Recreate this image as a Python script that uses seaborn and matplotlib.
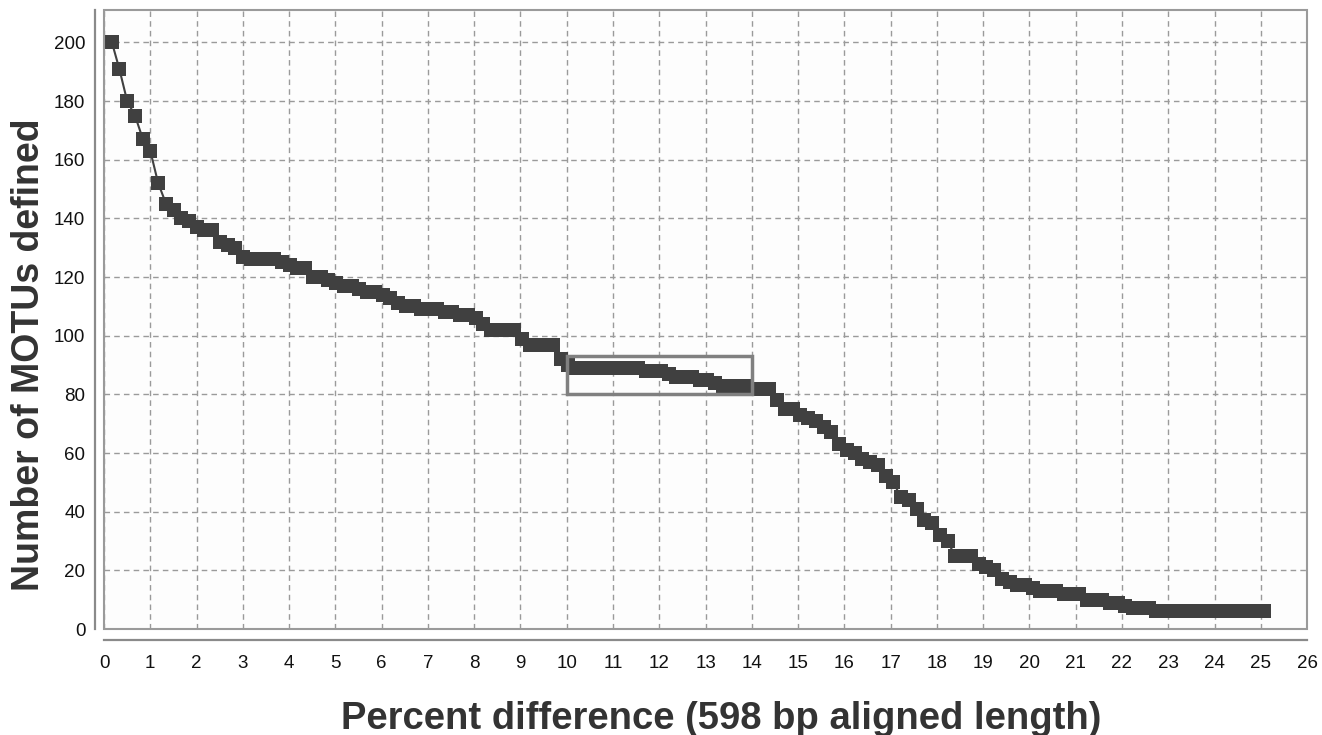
import numpy as np
import pandas as pd
import matplotlib
matplotlib.use("Agg")
import matplotlib.pyplot as plt
import seaborn as sns
from matplotlib.patches import Rectangle


# percent difference (steps of 1 bp over 598 bp)
pct_diff = [0.17, 0.33, 0.50, 0.67, 0.84, 1.00, 1.17, 1.34, 1.51, 1.67,
            1.84, 2.01, 2.17, 2.34, 2.51, 2.68, 2.84, 3.01, 3.18, 3.34,
            3.51, 3.68, 3.85, 4.01, 4.18, 4.35, 4.52, 4.68, 4.85, 5.02,
            5.18, 5.35, 5.52, 5.69, 5.85, 6.02, 6.19, 6.35, 6.52, 6.69,
            6.86, 7.02, 7.19, 7.36, 7.53, 7.69, 7.86, 8.03, 8.19, 8.36,
            8.53, 8.70, 8.86, 9.03, 9.20, 9.36, 9.53, 9.70, 9.87, 10.03,
            10.20, 10.37, 10.54, 10.70, 10.87, 11.04, 11.20, 11.37, 11.54, 11.71,
            11.87, 12.04, 12.21, 12.37, 12.54, 12.71, 12.88, 13.04, 13.21, 13.38,
            13.55, 13.71, 13.88, 14.05, 14.21, 14.38, 14.55, 14.72, 14.88, 15.05,
            15.22, 15.38, 15.55, 15.72, 15.89, 16.05, 16.22, 16.39, 16.56, 16.72,
            16.89, 17.06, 17.22, 17.39, 17.56, 17.73, 17.89, 18.06, 18.23, 18.39,
            18.56, 18.73, 18.90, 19.06, 19.23, 19.40, 19.57, 19.73, 19.90, 20.07,
            20.23, 20.40, 20.57, 20.74, 20.90, 21.07, 21.24, 21.40, 21.57, 21.74,
            21.91, 22.07, 22.24, 22.41, 22.58, 22.74, 22.91, 23.08, 23.24, 23.41,
            23.58, 23.75, 23.91, 24.08, 24.25, 24.41, 24.58, 24.75, 24.92, 25.08]

# number of MOTUs at each threshold
n_motus = [200, 191, 180, 175, 167, 163, 152, 145, 143, 140,
           139, 137, 136, 136, 132, 131, 130, 127, 126, 126,
           126, 126, 125, 124, 123, 123, 120, 120, 119, 118,
           117, 117, 116, 115, 115, 114, 113, 111, 110, 110,
           109, 109, 109, 108, 108, 107, 107, 106, 104, 102,
           102, 102, 102, 99, 97, 97, 97, 97, 92, 90,
           89, 89, 89, 89, 89, 89, 89, 89, 89, 88,
           88, 88, 87, 86, 86, 86, 85, 85, 84, 83,
           83, 83, 83, 82, 82, 82, 78, 75, 75, 73,
           72, 71, 69, 67, 63, 61, 60, 58, 57, 56,
           52, 50, 45, 44, 41, 37, 36, 32, 30, 25,
           25, 25, 22, 21, 20, 17, 16, 15, 15, 14,
           13, 13, 13, 12, 12, 12, 10, 10, 10, 9,
           9, 8, 7, 7, 7, 6, 6, 6, 6, 6,
           6, 6, 6, 6, 6, 6, 6, 6, 6, 6]

x_ticks = list(range(0, 27))
y_ticks = [0, 20, 40, 60, 80, 100, 120, 140, 160, 180, 200]

# highlighted plateau
box_x = [10, 14]
box_y = [80, 93]

df = pd.DataFrame({'pct': pct_diff, 'motus': n_motus})

sns.set_style('white')
plt.rcParams['font.family'] = ['Liberation Sans', 'DejaVu Sans']

fig = plt.figure(figsize=(13.22, 7.35), dpi=100, facecolor='white')
ax = fig.add_axes([0.0787, 0.1442, 0.910, 0.842])
ax.set_facecolor('#fdfdfd')

ax.set_axisbelow(True)
ax.grid(True, color='#9a9a9a', linestyle=(0, (4, 3)), linewidth=1.0)

sns.lineplot(data=df, x='pct', y='motus', ax=ax, color='#404040', linewidth=1.5,
             marker='s', markersize=10, markeredgecolor='#404040', markeredgewidth=0,
             zorder=3)

ax.add_patch(Rectangle((box_x[0], box_y[0]), box_x[1] - box_x[0], box_y[1] - box_y[0],
                       fill=False, edgecolor='#808080', linewidth=2.5, zorder=4))

ax.set_xlim(0, 26)
ax.set_ylim(0, 211)
ax.set_xticks(x_ticks)
ax.set_yticks(y_ticks)

# inner frame of the plot area
ax.add_patch(Rectangle((0, 0), 1, 1, transform=ax.transAxes, fill=False,
                       edgecolor='#9a9a9a', linewidth=1.5, zorder=5, clip_on=False))

for s in ['top', 'right']:
    ax.spines[s].set_visible(False)
ax.spines['left'].set_position(('outward', 6.5))
ax.spines['bottom'].set_position(('outward', 8))
for s in ['left', 'bottom']:
    ax.spines[s].set_color('#8a8a8a')
    ax.spines[s].set_linewidth(1.6)
ax.spines['left'].set_bounds(0, 211)
ax.spines['bottom'].set_bounds(0, 26)

ax.tick_params(axis='both', direction='out', length=4, width=1.3, color='#8a8a8a',
               labelsize=13.5, labelcolor='#111111')
ax.tick_params(axis='y', pad=3)
ax.tick_params(axis='x', pad=7)

ax.set_xlabel('Percent difference (598 bp aligned length)', fontsize=27.5,
              fontweight='bold', color='#333333', va='baseline')
ax.xaxis.set_label_coords(0.513, -0.1616)
ax.set_ylabel('Number of MOTUs defined', fontsize=27, fontweight='bold',
              color='#333333', va='center')
ax.yaxis.set_label_coords(-0.062, 0.4435)

fig.savefig('out.png', dpi=100, facecolor='white')
